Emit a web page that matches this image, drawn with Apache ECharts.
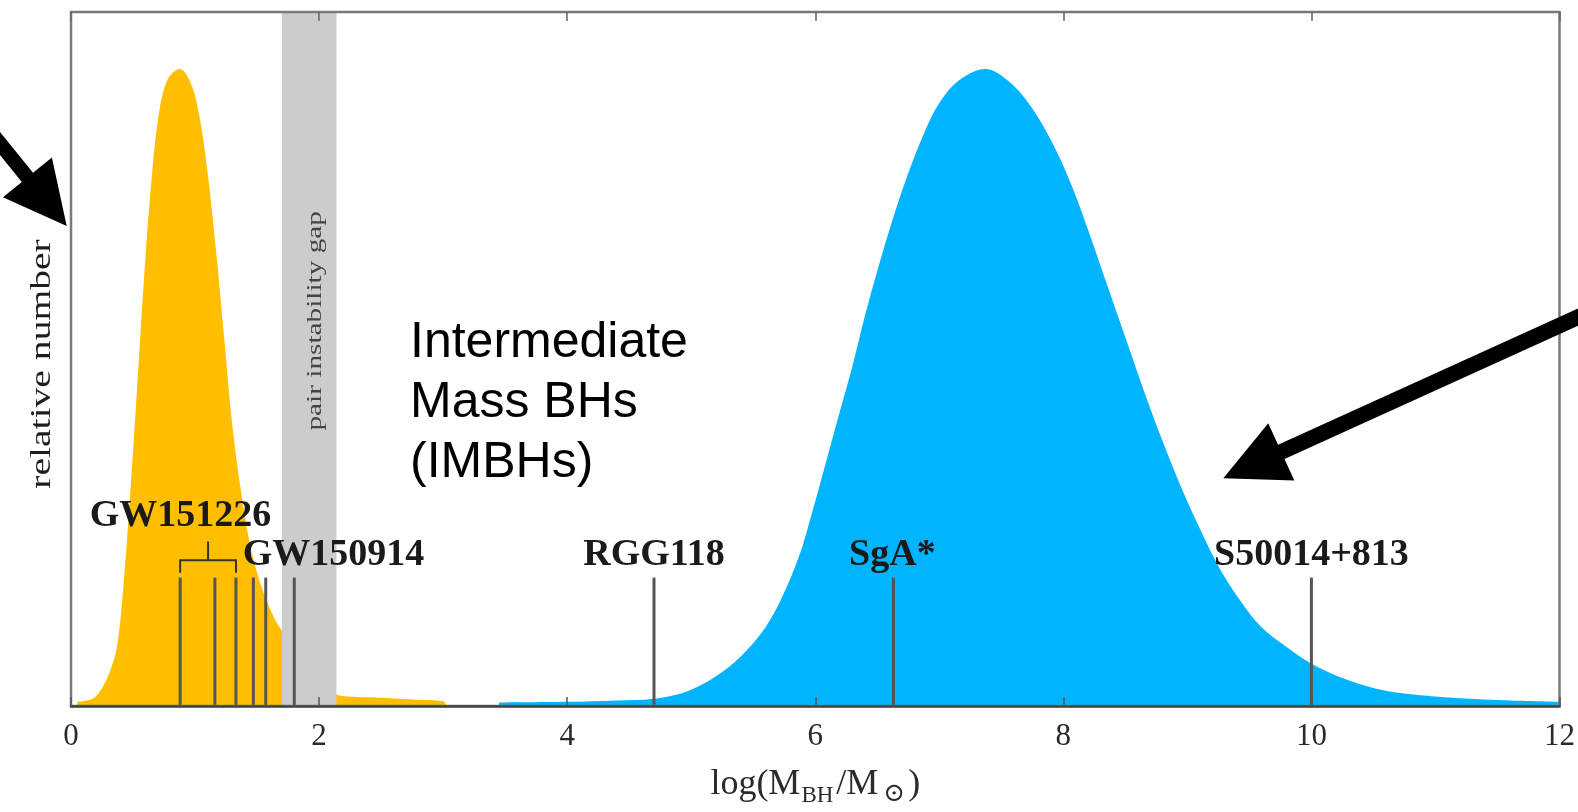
<!DOCTYPE html>
<html>
<head>
<meta charset="utf-8">
<script src="https://cdn.jsdelivr.net/npm/echarts@6/dist/echarts.min.js"></script>
<style>
  html, body { margin: 0; padding: 0; background: #ffffff; }
  #chart { width: 1578px; height: 812px; }
</style>
</head>
<body>
<div id="chart"></div>
<script>
// Stellar-mass black holes (log mass vs relative number)
const stellarMass  = [0.05, 0.17, 0.23, 0.31, 0.37, 0.42, 0.475, 0.53, 0.59, 0.65, 0.71, 0.78, 0.877,
                      0.96, 1.03, 1.10, 1.17, 1.23, 1.30, 1.37, 1.44, 1.52, 1.60, 1.696,
                      2.15, 2.50, 2.80, 3.00, 3.03];
const stellarCount = [0.006, 0.010, 0.020, 0.048, 0.085, 0.168, 0.300, 0.450, 0.620, 0.760, 0.855, 0.903, 0.918,
                      0.900, 0.855, 0.770, 0.655, 0.540, 0.405, 0.310, 0.235, 0.180, 0.142, 0.110,
                      0.016, 0.012, 0.009, 0.007, 0.000];

// Supermassive black holes
const smbhMass  = [3.45, 4.00, 4.40, 4.70, 4.98, 5.25, 5.44, 5.60, 5.73, 5.87, 5.97, 6.08, 6.19, 6.30, 6.40,
                   6.51, 6.62, 6.73, 6.86, 6.99, 7.155, 7.37, 7.555, 7.73, 7.91, 8.06, 8.21, 8.36, 8.51,
                   8.66, 8.81, 8.96, 9.11, 9.26, 9.41, 9.59, 9.80, 10.00, 10.30, 10.60, 11.05, 11.50, 12.00];
const smbhCount = [0.005, 0.006, 0.008, 0.0104, 0.022, 0.049, 0.079, 0.114, 0.156, 0.216, 0.276, 0.347, 0.419, 0.490, 0.562,
                   0.633, 0.699, 0.758, 0.818, 0.866, 0.901, 0.918, 0.901, 0.866, 0.812, 0.753, 0.681, 0.603, 0.526,
                   0.449, 0.377, 0.311, 0.252, 0.198, 0.156, 0.115, 0.085, 0.061, 0.037, 0.022, 0.013, 0.0086, 0.006];

// Observed black holes (log mass), drawn as vertical markers
const observedMass = [0.88, 1.16, 1.33, 1.47, 1.57, 1.80, 4.70, 6.63, 10.00];
const markerTop = 0.185;

// Object names and the mass each name refers to
const objectNames  = ['GW151226', 'GW150914', 'RGG118', 'SgA*', 'S50014+813'];
const objectAnchor = [(observedMass[0] + observedMass[2]) / 2, observedMass[5], observedMass[6], observedMass[7], observedMass[8]];

// Pair-instability mass gap (log mass range)
const gapRange = [1.70, 2.14];

// Axis
const xTickLabels = ['0', '2', '4', '6', '8', '10', '12'];

// ---- layout / style ----
const SERIF = '"Liberation Serif", "Times New Roman", "DejaVu Serif", serif';
const SANS = '"Liberation Sans", Arial, Helvetica, sans-serif';
const labelLayout = [
  { level: 0.274, dx: -27.6 },
  { level: 0.218, dx: 39.3 },
  { level: 0.218, dx: 0 },
  { level: 0.218, dx: -1 },
  { level: 0.218, dx: 0 }
];
const bracketLevels = { foot: 0.192, bar: 0.210, stem: 0.237 };

function arrowPoints(tail, tip, headLen, headHalf, shaftHalf) {
  const dx = tip[0] - tail[0], dy = tip[1] - tail[1];
  const len = Math.hypot(dx, dy);
  const ux = dx / len, uy = dy / len;
  const nx = -uy, ny = ux;
  const bx = tip[0] - ux * headLen, by = tip[1] - uy * headLen;
  return [
    [tail[0] + nx * shaftHalf, tail[1] + ny * shaftHalf],
    [bx + nx * shaftHalf, by + ny * shaftHalf],
    [bx + nx * headHalf, by + ny * headHalf],
    [tip[0], tip[1]],
    [bx - nx * headHalf, by - ny * headHalf],
    [bx - nx * shaftHalf, by - ny * shaftHalf],
    [tail[0] - nx * shaftHalf, tail[1] - ny * shaftHalf]
  ];
}

const chart = echarts.init(document.getElementById('chart'), null, { renderer: 'canvas' });

const option = {
  animation: false,
  backgroundColor: '#ffffff',
  grid: {
    left: 71, right: 16, top: 12, bottom: 101,
    show: true, borderColor: '#7a7a7a', borderWidth: 2.5, z: 6
  },
  xAxis: [
    {
      type: 'value', min: 0, max: 12, interval: 2, position: 'bottom', z: 7,
      axisLine: { show: true, onZero: false, lineStyle: { color: '#444', width: 2.5 } },
      axisTick: { show: true, inside: true, length: 9, lineStyle: { color: '#555', width: 1.5 } },
      splitLine: { show: false },
      axisLabel: {
        margin: 15, color: '#2a2a2a', fontSize: 31, fontFamily: SERIF,
        formatter: v => xTickLabels[Math.round(v / 2)]
      },
      name: 'log(M{s|BH}/M{o|⊙})',
      nameLocation: 'middle',
      nameGap: 57,
      nameTextStyle: {
        color: '#2a2a2a', fontSize: 36, fontFamily: SERIF, lineHeight: 44,
        rich: {
          s: { fontSize: 23, lineHeight: 22, verticalAlign: 'bottom', color: '#2a2a2a', fontFamily: SERIF, padding: [0, 3, 0, 1] },
          o: { fontSize: 26, lineHeight: 22, verticalAlign: 'bottom', color: '#2a2a2a', fontFamily: '"DejaVu Serif", serif', padding: [0, 3, 0, 5] }
        }
      }
    },
    {
      type: 'value', min: 0, max: 12, interval: 2, position: 'top', z: 7,
      axisLine: { show: false, onZero: false },
      axisTick: { show: true, inside: true, length: 9, lineStyle: { color: '#666', width: 1.5 } },
      axisLabel: { show: false },
      splitLine: { show: false }
    }
  ],
  yAxis: {
    type: 'value', min: 0, max: 1,
    axisLine: { show: false }, axisTick: { show: false },
    axisLabel: { show: false }, splitLine: { show: false }
  },
  series: [
    {
      name: 'stellar', type: 'line', z: 2,
      data: stellarMass.map((m, i) => [m, stellarCount[i]]),
      smooth: 0.35, symbol: 'none',
      lineStyle: { width: 0 },
      areaStyle: { color: '#ffbf00', opacity: 1 }
    },
    {
      name: 'smbh', type: 'line', z: 2,
      data: smbhMass.map((m, i) => [m, smbhCount[i]]),
      smooth: 0.35, symbol: 'none',
      lineStyle: { width: 0 },
      areaStyle: { color: '#00b4ff', opacity: 1 }
    },
    {
      name: 'gap', type: 'custom', z: 3,
      data: [gapRange],
      encode: { x: [0, 1] },
      renderItem: (params, api) => {
        const p0 = api.coord([api.value(0), 1]);
        const p1 = api.coord([api.value(1), 0]);
        const mid = api.coord([(api.value(0) + api.value(1)) / 2, 0.555]);
        return {
          type: 'group',
          children: [
            {
              type: 'rect',
              shape: { x: p0[0], y: p0[1], width: p1[0] - p0[0], height: p1[1] - p0[1] },
              style: { fill: '#cccccc' }
            },
            {
              type: 'text',
              x: mid[0] + 6, y: mid[1],
              rotation: Math.PI / 2,
              scaleX: 1.33,
              style: {
                text: 'pair instability gap',
                fontSize: 22, fontFamily: SERIF, fill: '#444',
                align: 'center', verticalAlign: 'middle'
              }
            }
          ]
        };
      }
    },
    {
      name: 'markers', type: 'custom', z: 4,
      data: observedMass.map(m => [m, markerTop]),
      renderItem: (params, api) => {
        const b = api.coord([api.value(0), 0]);
        const t = api.coord([api.value(0), api.value(1)]);
        return {
          type: 'line',
          shape: { x1: b[0], y1: b[1], x2: t[0], y2: t[1] },
          style: { stroke: '#555555', lineWidth: 3 }
        };
      }
    },
    {
      name: 'bracket', type: 'custom', z: 4,
      data: [[observedMass[0], observedMass[2]]],
      encode: { x: [0, 1] },
      renderItem: (params, api) => {
        const x0 = api.value(0), x1 = api.value(1), xm = (x0 + x1) / 2;
        const a = api.coord([x0, bracketLevels.foot]);
        const b = api.coord([x0, bracketLevels.bar]);
        const c = api.coord([x1, bracketLevels.bar]);
        const d = api.coord([x1, bracketLevels.foot]);
        const m0 = api.coord([xm, bracketLevels.bar]);
        const m1 = api.coord([xm, bracketLevels.stem]);
        return {
          type: 'group',
          children: [
            { type: 'polyline', shape: { points: [a, b, c, d] }, style: { stroke: '#333', lineWidth: 2, fill: null } },
            { type: 'line', shape: { x1: m0[0], y1: m0[1], x2: m1[0], y2: m1[1] }, style: { stroke: '#333', lineWidth: 2 } }
          ]
        };
      }
    },
    {
      name: 'names', type: 'custom', z: 5,
      data: objectAnchor.map((m, i) => [m, labelLayout[i].level]),
      renderItem: (params, api) => {
        const i = params.dataIndex;
        const p = api.coord([api.value(0), api.value(1)]);
        return {
          type: 'text',
          x: p[0] + labelLayout[i].dx, y: p[1],
          style: {
            text: objectNames[i],
            fontSize: 38, fontWeight: 'bold', fontFamily: SERIF, fill: '#1a1a1a',
            align: 'center', verticalAlign: 'middle'
          }
        };
      }
    }
  ],
  graphic: [
    {
      type: 'text', x: 42, y: 364, rotation: Math.PI / 2, scaleX: 1.32, z: 100,
      style: {
        text: 'relative number', fontSize: 30, fontFamily: SERIF, fill: '#1e1e1e',
        align: 'center', verticalAlign: 'middle'
      }
    },
    {
      type: 'text', x: 410, y: 313.7, z: 100,
      style: {
        text: 'Intermediate\nMass BHs\n(IMBHs)', fontSize: 50, lineHeight: 60,
        fontFamily: SANS, fill: '#000', align: 'left', verticalAlign: 'top'
      }
    },
    {
      type: 'polygon', z: 100,
      shape: { points: arrowPoints([-40, 94], [66.7, 226], 62.5, 31.5, 7.2) },
      style: { fill: '#000' }
    },
    {
      type: 'polygon', z: 100,
      shape: { points: arrowPoints([1620, 298], [1223.3, 478.3], 63.7, 31.5, 7.8) },
      style: { fill: '#000' }
    }
  ]
};

chart.setOption(option);
</script>
</body>
</html>
